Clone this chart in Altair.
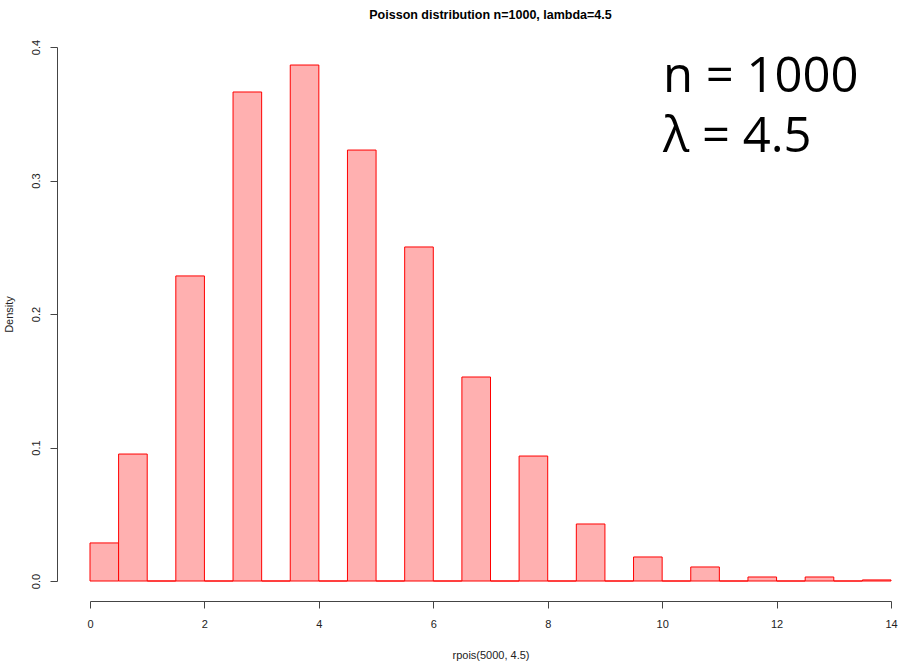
import altair as alt
import pandas as pd

# Histogram of rpois(5000, 4.5) with R-style half-unit breaks (0, 0.5, ..., 14)
bin_left = [i * 0.5 for i in range(28)]
bin_right = [(i + 1) * 0.5 for i in range(28)]
# Density for each bin; bins between integers hold no counts
density = [
    0.0285, 0.0951, 0.0, 0.2285, 0.0, 0.3663, 0.0, 0.3865,
    0.0, 0.3228, 0.0, 0.2502, 0.0, 0.1528, 0.0, 0.0936,
    0.0, 0.0427, 0.0, 0.0180, 0.0, 0.0105, 0.0, 0.0030,
    0.0, 0.0030, 0.0, 0.0008,
]

x_ticks = [0, 2, 4, 6, 8, 10, 12, 14]
y_ticks = [0.0, 0.1, 0.2, 0.3, 0.4]

hist = pd.DataFrame({"left": bin_left, "right": bin_right, "density": density})

font = "Liberation Sans"

bars = alt.Chart(hist).mark_rect(
    fill="#ffb0b0", stroke="#ff0000", strokeWidth=1
).encode(
    x=alt.X(
        "left:Q",
        scale=alt.Scale(domain=[0, 14], nice=False, zero=False),
        axis=alt.Axis(
            title="rpois(5000, 4.5)", values=x_ticks, format="d",
            offset=20, tickSize=7, labelPadding=10, titlePadding=20,
            labelFlush=False, grid=False,
            domainColor="#444444", tickColor="#444444",
            labelColor="#222222", titleColor="#222222",
            labelFont=font, titleFont=font, labelFontSize=11, titleFontSize=11,
            titleFontWeight="normal",
        ),
    ),
    x2="right:Q",
    y=alt.Y(
        "density:Q",
        scale=alt.Scale(domain=[0, 0.4], nice=False),
        axis=alt.Axis(
            title="Density", values=y_ticks, format=".1f",
            offset=33, tickSize=7, labelPadding=9, labelAngle=-90,
            labelFlush=False, titlePadding=16, grid=False,
            domainColor="#444444", tickColor="#444444",
            labelColor="#222222", titleColor="#222222",
            labelFont=font, titleFont=font, labelFontSize=11, titleFontSize=11,
            titleFontWeight="normal",
        ),
    ),
    y2=alt.datum(0),
)

note = alt.Chart(pd.DataFrame({"k": [0]})).mark_text(
    align="left", baseline="alphabetic", font="Open Sans", fontSize=49,
    lineHeight=60, color="#000000",
).encode(
    x=alt.value(573),
    y=alt.value(45),
    text=alt.value(["n = 1000", "λ = 4.5"]),
)

chart = alt.layer(bars, note).properties(
    width=801,
    height=534,
    title=alt.TitleParams(
        "Poisson distribution n=1000, lambda=4.5",
        font=font, fontSize=12.5, fontWeight="bold", color="#000000",
        anchor="middle", offset=18,
    ),
    autosize=alt.AutoSizeParams(type="none"),
    padding={"left": 90, "top": 47, "right": 10, "bottom": 82},
).configure(background="white").configure_view(strokeWidth=0, stroke=None)

chart.save("out.html", embed_options={"renderer": "svg", "actions": False})
